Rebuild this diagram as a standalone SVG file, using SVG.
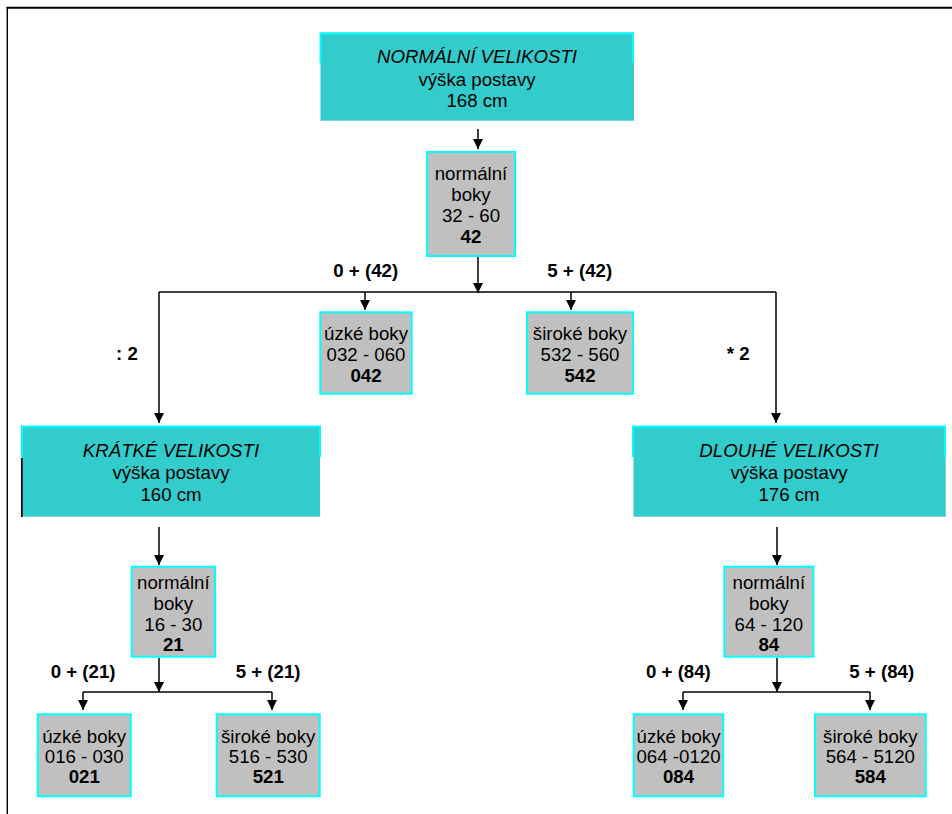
<svg xmlns="http://www.w3.org/2000/svg" width="952" height="814" viewBox="0 0 952 814">
<style>
text{font-family:"Liberation Sans",Arial,sans-serif;font-size:18.67px;fill:#000;text-anchor:middle}
.b{font-weight:bold}
.i{font-style:italic}
.lbl{font-weight:bold;text-anchor:start}
.teal{fill:#33CCCC}
.cy{fill:none;stroke:#00FFFF;stroke-width:2}
.gray{fill:#C0C0C0;stroke:#00FFFF;stroke-width:2}
.ln{fill:none;stroke:#000;stroke-width:1.5}
.ar{fill:none;stroke:#000;stroke-width:1.5;marker-end:url(#ah)}
</style>
<defs>
<marker id="ah" viewBox="0 0 10 10" refX="10" refY="5" markerWidth="10" markerHeight="10" markerUnits="userSpaceOnUse" orient="auto">
<path d="M0,0 L10,5 L0,10 z" fill="#000"/>
</marker>
</defs>
<rect width="952" height="814" fill="#fff"/>
<g id="frame">
<line x1="7.3" y1="7" x2="7.3" y2="814" stroke="#000" stroke-width="1.4"/>
<line x1="6.6" y1="7.7" x2="952" y2="7.7" stroke="#000" stroke-width="2"/>
</g>
<g id="connectors">
<line class="ar" x1="478" y1="129" x2="478" y2="149"/>
<line class="ar" x1="478" y1="257" x2="478" y2="293"/>
<line class="ln" x1="159" y1="292" x2="776" y2="292"/>
<line class="ar" x1="159" y1="292" x2="159" y2="423"/>
<line class="ar" x1="776" y1="292" x2="776" y2="423"/>
<line class="ar" x1="365" y1="292" x2="365" y2="310"/>
<line class="ar" x1="571" y1="292" x2="571" y2="310"/>
<line class="ar" x1="159" y1="527" x2="159" y2="565"/>
<line class="ar" x1="159" y1="658" x2="159" y2="692"/>
<line class="ln" x1="83" y1="692" x2="272" y2="692"/>
<line class="ar" x1="83" y1="692" x2="83" y2="710"/>
<line class="ar" x1="272" y1="692" x2="272" y2="710"/>
<line class="ar" x1="777" y1="527" x2="777" y2="565"/>
<line class="ar" x1="777" y1="658" x2="777" y2="692"/>
<line class="ln" x1="683" y1="692" x2="870" y2="692"/>
<line class="ar" x1="683" y1="692" x2="683" y2="710"/>
<line class="ar" x1="870" y1="692" x2="870" y2="710"/>
</g>
<g id="labels">
<text class="lbl" x="333.3" y="276.7">0 + (42)</text>
<text class="lbl" x="547.3" y="276.7">5 + (42)</text>
<text class="lbl" x="116" y="360">: 2</text>
<text class="lbl" x="726.7" y="360">* 2</text>
<text class="lbl" x="50.7" y="678">0 + (21)</text>
<text class="lbl" x="235.7" y="678">5 + (21)</text>
<text class="lbl" x="646" y="678">0 + (84)</text>
<text class="lbl" x="849.3" y="678">5 + (84)</text>
</g>
<g id="normalni-velikosti">
<rect class="teal" x="320.5" y="32.5" width="313.5" height="88.2"/>
<path class="cy" d="M320.5,63 V33.5 H633 V63"/>
<text class="i" x="477" y="63.3">NORMÁLNÍ VELIKOSTI</text>
<text x="477" y="85.5">výška postavy</text>
<text x="477" y="106.7">168 cm</text>
</g>
<g id="normalni-boky-42">
<rect class="gray" x="427" y="152" width="88" height="104"/>
<text x="471" y="180">normální</text>
<text x="471" y="201">boky</text>
<text x="471" y="222">32 - 60</text>
<text class="b" x="471" y="243">42</text>
</g>
<g id="uzke-boky-042">
<rect class="gray" x="320.3" y="312.3" width="91.4" height="81.4"/>
<text x="366" y="340">úzké boky</text>
<text x="366" y="361">032 - 060</text>
<text class="b" x="366" y="381.7">042</text>
</g>
<g id="siroke-boky-542">
<rect class="gray" x="527" y="312.3" width="106" height="81.4"/>
<text x="580" y="340">široké boky</text>
<text x="580" y="361">532 - 560</text>
<text class="b" x="580" y="381.7">542</text>
</g>
<g id="kratke-velikosti">
<rect class="teal" x="22" y="426" width="298" height="90.7"/>
<path class="cy" d="M22,457 V426.5 H320 V457"/>
<line x1="21.8" y1="458" x2="21.8" y2="517" stroke="#000" stroke-width="1.7"/>
<text class="i" x="171" y="457.3">KRÁTKÉ VELIKOSTI</text>
<text x="171" y="479">výška postavy</text>
<text x="171" y="500.7">160 cm</text>
</g>
<g id="dlouhe-velikosti">
<rect class="teal" x="633.5" y="426" width="312.2" height="90.7"/>
<path class="cy" d="M633,457 V426.5 H945 V457"/>
<text class="i" x="789" y="456.7">DLOUHÉ VELIKOSTI</text>
<text x="789" y="478.5">výška postavy</text>
<text x="789" y="500.7">176 cm</text>
</g>
<g id="normalni-boky-21">
<rect class="gray" x="131.7" y="566.7" width="83.3" height="90"/>
<text x="173.3" y="589">normální</text>
<text x="173.3" y="609.5">boky</text>
<text x="173.3" y="630.5">16 - 30</text>
<text class="b" x="173.3" y="651">21</text>
</g>
<g id="uzke-boky-021">
<rect class="gray" x="37.7" y="714.3" width="93" height="82"/>
<text x="84.2" y="743.3">úzké boky</text>
<text x="84.2" y="763.3">016 - 030</text>
<text class="b" x="84.2" y="783.3">021</text>
</g>
<g id="siroke-boky-521">
<rect class="gray" x="216.7" y="714.3" width="103" height="82"/>
<text x="268.2" y="743.3">široké boky</text>
<text x="268.2" y="763.3">516 - 530</text>
<text class="b" x="268.2" y="783.3">521</text>
</g>
<g id="normalni-boky-84">
<rect class="gray" x="724.3" y="566.7" width="89" height="90"/>
<text x="768.8" y="589">normální</text>
<text x="768.8" y="609.5">boky</text>
<text x="768.8" y="630.5">64 - 120</text>
<text class="b" x="768.8" y="651">84</text>
</g>
<g id="uzke-boky-084">
<rect class="gray" x="633.7" y="714.3" width="89.6" height="82"/>
<text x="678.5" y="743.3">úzké boky</text>
<text x="678.5" y="763.3">064 -0120</text>
<text class="b" x="678.5" y="783.3">084</text>
</g>
<g id="siroke-boky-584">
<rect class="gray" x="815" y="714.3" width="110.7" height="82"/>
<text x="870.3" y="743.3">široké boky</text>
<text x="870.3" y="763.3">564 - 5120</text>
<text class="b" x="870.3" y="783.3">584</text>
</g>
</svg>
